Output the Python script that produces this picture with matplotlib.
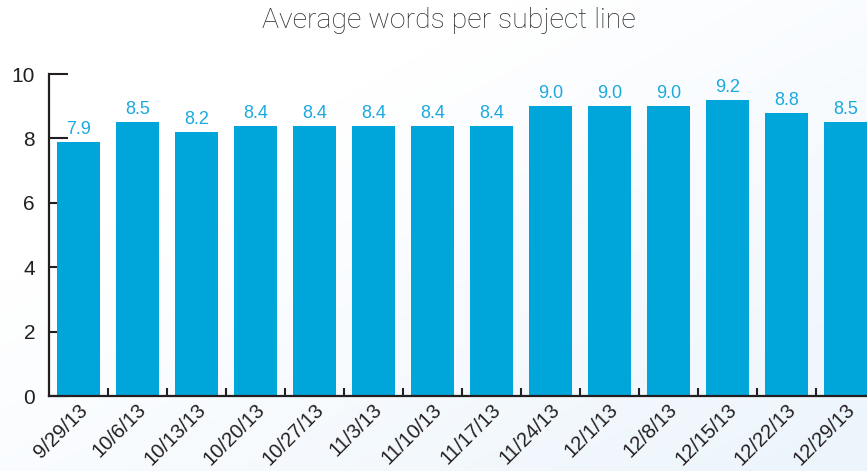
import matplotlib
matplotlib.use("Agg")
import matplotlib.pyplot as plt
import matplotlib.transforms as mtransforms
import numpy as np
from matplotlib.colors import LinearSegmentedColormap

weeks = ["9/29/13", "10/6/13", "10/13/13", "10/20/13", "10/27/13", "11/3/13", "11/10/13",
         "11/17/13", "11/24/13", "12/1/13", "12/8/13", "12/15/13", "12/22/13", "12/29/13"]
avg_words = [7.9, 8.5, 8.2, 8.4, 8.4, 8.4, 8.4, 8.4, 9.0, 9.0, 9.0, 9.2, 8.8, 8.5]
y_ticks = [0, 2, 4, 6, 8, 10]

BAR = "#00A6DA"
LABEL = "#1BA9E0"
INK = "#231F20"

plt.rcParams["font.family"] = ["Liberation Sans", "DejaVu Sans"]

W, H = 867, 471
fig = plt.figure(figsize=(W / 100, H / 100), dpi=100)

# soft diagonal background wash, strongest toward the lower right
bg = fig.add_axes([0, 0, 1, 1], zorder=-10)
gx, gy = np.meshgrid(np.linspace(0, 1, 200), np.linspace(0, 1, 200))
grad = np.clip(gx * 0.75 + gy * 0.75 - 0.45, 0, 1)
cmap = LinearSegmentedColormap.from_list("wash", ["#FFFFFF", "#EDF5FC"])
bg.imshow(grad, cmap=cmap, aspect="auto", extent=[0, 1, 0, 1], origin="upper", vmin=0, vmax=1)
bg.axis("off")

ax = fig.add_axes([49 / W, (H - 396) / H, (W - 49) / W, (396 - 74) / H])
ax.patch.set_alpha(0)

x = np.arange(len(weeks))
bw = 0.73
ax.bar(x, avg_words, width=bw, color=BAR, zorder=2)
for xi, v in zip(x, avg_words):
    ax.text(xi, v + 0.12, f"{v:.1f}", ha="center", va="bottom", color=LABEL,
            fontsize=13, zorder=3)

ax.set_xlim(-0.5, len(weeks) - 1 + bw / 2)
ax.set_ylim(0, 10)

for s in ["top", "right"]:
    ax.spines[s].set_visible(False)
for s in ["left", "bottom"]:
    ax.spines[s].set_color(INK)
    ax.spines[s].set_linewidth(1.6)
    ax.spines[s].set_zorder(4)
ax.set_axisbelow(True)

ax.set_yticks(y_ticks)
ax.tick_params(axis="y", direction="in", length=14, width=1.5, color=INK,
               labelsize=15, labelcolor=INK, pad=10)

ax.set_xticks(x)
ax.set_xticklabels(weeks)
ax.set_xticks(x[:-1] + 0.5, minor=True)
ax.tick_params(axis="x", which="major", length=0, labelsize=14.5, labelcolor=INK, pad=8)
ax.tick_params(axis="x", which="minor", direction="in", length=6, width=1.5, color=INK)
shift = mtransforms.ScaledTranslation(6 / 100, 0, fig.dpi_scale_trans)
for lbl in ax.get_xticklabels():
    lbl.set_rotation(45)
    lbl.set_ha("right")
    lbl.set_va("center")
    lbl.set_rotation_mode("anchor")
    lbl.set_transform(lbl.get_transform() + shift)

fig.text(449 / W, 1 - 21 / H, "Average words per subject line", ha="center", va="center",
         fontsize=20.5, color="#2B2B2B", family=["Roboto", "DejaVu Sans"], weight="light")

fig.savefig("out.png", dpi=100)
